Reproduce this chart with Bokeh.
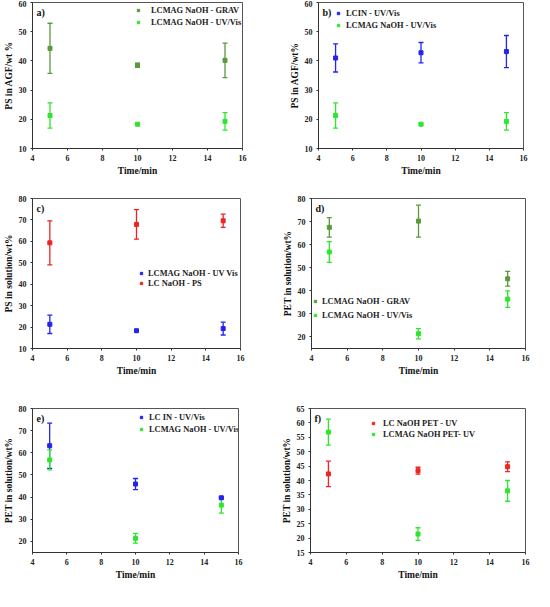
from bokeh.plotting import figure
from bokeh.models import (ColumnDataSource, Whisker, TeeHead, Legend, LegendItem,
                          Label, Range1d, SingleIntervalTicker)
from bokeh.layouts import column, row
from bokeh.embed import file_html
from bokeh.resources import INLINE

# ---------------- data ----------------
time_min = [5, 10, 15]

mag_ps_grav = [44.3, 38.5, 40.2]
mag_ps_grav_err = [8.6, 0.7, 5.9]
mag_ps_uv = [21.3, 18.3, 19.3]
mag_ps_uv_err = [4.3, 0.4, 3.0]
lcin_ps_uv = [41.0, 42.8, 43.2]
lcin_ps_uv_err = [4.8, 3.5, 5.5]
lc_naoh_ps = [59.3, 67.9, 69.6]
lc_naoh_ps_err = [10.3, 6.9, 3.1]
mag_pet_grav = [67.5, 70.2, 45.2]
mag_pet_grav_err = [4.2, 6.9, 3.2]
mag_pet_uv = [56.8, 21.4, 36.4]
mag_pet_uv_err = [4.5, 2.2, 3.6]
lcin_pet_uv = [63.2, 45.9, 39.7]
lcin_pet_uv_err = [10.2, 2.5, 0.5]
lc_naoh_pet_uv = [42.3, 43.4, 44.8]
lc_naoh_pet_uv_err = [4.4, 1.2, 1.7]

DKGREEN = "#5a9a3a"
GREEN = "#2ee62e"
BLUE = "#2424ee"
RED = "#ee2424"
FONT = "Liberation Serif"


def panel(tag, ylabel, yr, ystep, series, frame, borders, leg):
    fw, fh = frame
    bl, br, bt, bb = borders
    p = figure(frame_width=fw, frame_height=fh, x_range=Range1d(4, 16),
               y_range=Range1d(*yr), output_backend="svg", toolbar_location=None,
               min_border_left=bl, min_border_right=br, min_border_top=bt,
               min_border_bottom=bb)
    p.grid.visible = False
    p.outline_line_color = "#555555"
    p.outline_line_width = 1
    p.background_fill_color = "white"
    p.border_fill_color = "white"
    p.xaxis.ticker = SingleIntervalTicker(interval=2)
    p.yaxis.ticker = SingleIntervalTicker(interval=ystep)
    for ax in (p.xaxis[0], p.yaxis[0]):
        ax.axis_line_color = "#333333"
        ax.major_tick_line_color = "#333333"
        ax.major_tick_out = 2
        ax.major_tick_in = 0
        ax.minor_tick_line_color = None
        ax.major_label_text_font = FONT
        ax.major_label_text_font_style = "bold"
        ax.major_label_text_font_size = "8px"
        ax.major_label_text_color = "#222222"
        ax.major_label_standoff = 2
        ax.axis_label_text_font = FONT
        ax.axis_label_text_font_style = "bold"
        ax.axis_label_text_color = "#111111"
        ax.axis_label_standoff = 2
    p.xaxis.axis_label = "Time/min"
    p.xaxis.axis_label_text_font_size = "9.5px"
    p.yaxis.axis_label = ylabel
    p.yaxis.axis_label_text_font_size = "9.5px"

    items = []
    for label, y, err, color in series:
        src = ColumnDataSource(dict(x=time_min, y=y,
                                    lower=[v - e for v, e in zip(y, err)],
                                    upper=[v + e for v, e in zip(y, err)]))
        w = Whisker(base="x", lower="lower", upper="upper", source=src,
                    line_color=color, line_width=1.3,
                    upper_head=TeeHead(size=5, line_color=color, line_width=1.3),
                    lower_head=TeeHead(size=5, line_color=color, line_width=1.3))
        p.add_layout(w)
        r = p.scatter("x", "y", source=src, marker="square", size=4,
                      fill_color=color, line_color=color)
        items.append(LegendItem(label=label, renderers=[r]))

    lx, ltop, lsp, lstand = leg
    n = len(items)
    lh = n * 10 + (n - 1) * lsp
    legend = Legend(items=items, location=(lx, fh - ltop - lh),
                    label_text_font=FONT, label_text_font_style="bold",
                    label_text_font_size="8.4px", label_text_color="#222222",
                    glyph_width=6, glyph_height=6, label_height=10,
                    label_standoff=lstand, spacing=lsp, padding=0, margin=0,
                    border_line_alpha=0, background_fill_alpha=0)
    p.add_layout(legend)

    p.add_layout(Label(x=4, y=yr[1], x_offset=4, y_offset=-4, text=tag,
                       text_baseline="top", text_align="left",
                       text_font=FONT, text_font_style="bold",
                       text_font_size="10px", text_color="#111111"))
    return p


pa = panel("a)", "PS in AGF/wt %", (10, 60), 10,
           [("LCMAG NaOH - GRAV", mag_ps_grav, mag_ps_grav_err, DKGREEN),
            ("LCMAG NaOH - UV/Vis", mag_ps_uv, mag_ps_uv_err, GREEN)],
           (210, 146), (26, 29, 2, 38), (103, 3, 2, 10))
pb = panel("b)", "PS in AGF/wt%", (10, 60), 10,
           [("LCIN - UV/Vis", lcin_ps_uv, lcin_ps_uv_err, BLUE),
            ("LCMAG NaOH - UV/Vis", mag_ps_uv, mag_ps_uv_err, GREEN)],
           (205, 146), (47, 8, 2, 38), (17, 6, 2, 5))
pc = panel("c)", "PS in solution/wt%", (10, 80), 10,
           [("LCMAG NaOH - UV Vis", mag_ps_uv, mag_ps_uv_err, BLUE),
            ("LC NaOH - PS", lc_naoh_ps, lc_naoh_ps_err, RED)],
           (208, 150), (26, 31, 12, 38), (106, 70, 0, 4))
pd = panel("d)", "PET in solution/wt%", (15, 80), 10,
           [("LCMAG NaOH - GRAV", mag_pet_grav, mag_pet_grav_err, DKGREEN),
            ("LCMAG NaOH - UV/Vis", mag_pet_uv, mag_pet_uv_err, GREEN)],
           (214, 150), (40, 6, 12, 38), (1, 98, 4, 4))
pe = panel("e)", "PET in solution/wt%", (15, 80), 10,
           [("LC IN - UV/Vis", lcin_pet_uv, lcin_pet_uv_err, BLUE),
            ("LCMAG NaOH - UV/Vis", mag_pet_uv, mag_pet_uv_err, GREEN)],
           (206, 144), (26, 33, 22, 30), (106, 4, 2, 5))
pf = panel("f)", "PET in solution/wt%", (15, 65), 5,
           [("LC NaOH PET - UV", lc_naoh_pet_uv, lc_naoh_pet_uv_err, RED),
            ("LCMAG NaOH PET- UV", mag_pet_uv, mag_pet_uv_err, GREEN)],
           (215, 144), (39, 6, 22, 30), (60, 10, 1, 7))

layout = column(row(pa, pb), row(pc, pd), row(pe, pf))
open("out.html", "w").write(file_html(layout, INLINE))
